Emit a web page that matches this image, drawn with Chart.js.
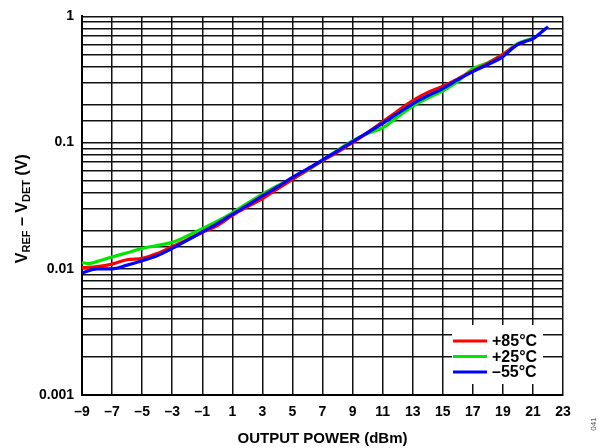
<!DOCTYPE html>
<html>
<head>
<meta charset="utf-8">
<script src="https://cdn.jsdelivr.net/npm/chart.js@4/dist/chart.umd.min.js"></script>
<style>
html,body{margin:0;padding:0;background:#fff;}
#wrap{position:relative;width:599px;height:448px;}
</style>
</head>
<body>
<div id="wrap"><canvas id="c" width="599" height="448"></canvas></div>
<script>
// ---- data ----
const seriesLabels = ['+85°C', '+25°C', '\u201355°C'];
const seriesColors = ['#ff0000', '#00e600', '#0000ff'];

const powerRed = [-9, -8, -7, -6, -5, -4, -3, -2, -1, 0, 1, 2, 3, 4, 5, 6, 7, 8, 9, 10, 11, 12, 13, 14, 15, 16, 17, 18, 19, 20, 20.5];
const vRed = [0.0102, 0.0104, 0.0109, 0.0118, 0.0121, 0.0132, 0.0150, 0.0170, 0.0194, 0.0220, 0.0265, 0.0310, 0.0360, 0.0430, 0.0510, 0.0610, 0.0720, 0.0840, 0.1000, 0.1200, 0.1460, 0.1780, 0.2150, 0.2500, 0.2800, 0.3200, 0.3700, 0.4250, 0.5000, 0.6000, 0.6300];

const powerGreen = [-9, -8.5, -8, -7, -6, -5, -4, -3, -2, -1, 0, 1, 2, 3, 4, 5, 6, 7, 8, 9, 10, 11, 12, 13, 14, 15, 16, 17, 18, 19, 20, 21];
const vGreen = [0.0112, 0.0110, 0.0114, 0.0124, 0.0134, 0.0145, 0.0153, 0.0162, 0.0182, 0.0208, 0.0238, 0.0278, 0.0330, 0.0390, 0.0455, 0.0520, 0.0600, 0.0720, 0.0870, 0.1030, 0.1180, 0.1310, 0.1600, 0.1940, 0.2250, 0.2570, 0.3050, 0.3850, 0.4300, 0.5000, 0.6100, 0.6700];

const powerBlue = [-9, -8, -7, -6, -5, -4, -3, -2, -1, 0, 1, 2, 3, 4, 5, 6, 7, 8, 9, 10, 11, 12, 13, 14, 15, 16, 17, 18, 19, 19.5, 20, 20.5, 21, 21.5, 22];
const vBlue = [0.0093, 0.0100, 0.0100, 0.0107, 0.0116, 0.0127, 0.0145, 0.0168, 0.0196, 0.0228, 0.0270, 0.0318, 0.0378, 0.0445, 0.0530, 0.0620, 0.0730, 0.0860, 0.1020, 0.1200, 0.1420, 0.1700, 0.2030, 0.2350, 0.2680, 0.3150, 0.3650, 0.4150, 0.4800, 0.5400, 0.6000, 0.6350, 0.6650, 0.7400, 0.8300];

const xTicks = [-9, -7, -5, -3, -1, 1, 3, 5, 7, 9, 11, 13, 15, 17, 19, 21, 23];
const yTickLabels = ['0.001', '0.01', '0.1', '1'];
const xTitle = 'OUTPUT POWER (dBm)';
const yTitleParts = [['V', false], ['REF', true], [' \u2013 V', false], ['DET', true], [' (V)', false]];
const figureId = '041';

// ---- chart ----
const FONT = '"Liberation Sans", Arial, sans-serif';
function pts(xs, ys) { return xs.map((x, i) => ({ x: x, y: ys[i] })); }

const overlay = {
  id: 'overlay',
  afterDraw(chart) {
    const ctx = chart.ctx;
    const a = chart.chartArea;
    ctx.save();
    // x title
    ctx.fillStyle = '#000';
    ctx.font = 'bold 15px ' + FONT;
    ctx.textAlign = 'center';
    ctx.textBaseline = 'alphabetic';
    ctx.fillText(xTitle, (a.left + a.right) / 2, 443);
    // y title with subscripts
    ctx.save();
    ctx.translate(27, (a.top + a.bottom) / 2 + 3);
    ctx.rotate(-Math.PI / 2);
    const big = 'bold 16px ' + FONT, small = 'bold 11px ' + FONT;
    let total = 0;
    yTitleParts.forEach(p => { ctx.font = p[1] ? small : big; total += ctx.measureText(p[0]).width; });
    let x = -total / 2;
    ctx.textAlign = 'left';
    yTitleParts.forEach(p => {
      ctx.font = p[1] ? small : big;
      ctx.fillText(p[0], x, p[1] ? 3 : 0);
      x += ctx.measureText(p[0]).width;
    });
    ctx.restore();
    // legend box
    const bx = 452, by = 325, bw = 91, bh = 59;
    ctx.fillStyle = '#fff';
    ctx.fillRect(bx, by, bw, bh);
    ctx.font = 'bold 16px ' + FONT;
    ctx.textBaseline = 'middle';
    ctx.textAlign = 'left';
    const rows = [341, 356.5, 372];
    seriesLabels.forEach((lab, i) => {
      ctx.strokeStyle = seriesColors[i];
      ctx.lineWidth = 3;
      ctx.beginPath();
      ctx.moveTo(453, rows[i]);
      ctx.lineTo(487, rows[i]);
      ctx.stroke();
      ctx.fillStyle = '#000';
      ctx.fillText(lab, 492, rows[i] + 1);
    });
    // figure id
    ctx.save();
    ctx.translate(594, 424);
    ctx.rotate(-Math.PI / 2);
    ctx.font = '8px ' + FONT;
    ctx.fillStyle = '#555';
    ctx.textAlign = 'center';
    ctx.fillText(figureId, 0, 0);
    ctx.restore();
    ctx.restore();
  }
};

function ds(label, xs, ys, color, order) {
  return {
    label: label, data: pts(xs, ys), borderColor: color, backgroundColor: color,
    borderWidth: 3.2, pointRadius: 0, tension: 0.35, cubicInterpolationMode: 'monotone',
    fill: false, order: order
  };
}

new Chart(document.getElementById('c'), {
  type: 'line',
  data: {
    datasets: [
      ds(seriesLabels[0], powerRed, vRed, seriesColors[0], 1),
      ds(seriesLabels[1], powerGreen, vGreen, seriesColors[1], 2),
      ds(seriesLabels[2], powerBlue, vBlue, seriesColors[2], 0)
    ]
  },
  options: {
    responsive: false,
    animation: false,
    devicePixelRatio: 1,
    layout: { padding: { left: 0, right: 36, top: 12, bottom: 0 } },
    plugins: { legend: { display: false }, tooltip: { enabled: false } },
    scales: {
      x: {
        type: 'linear', min: -9, max: 23,
        afterBuildTicks(scale) { scale.ticks = xTicks.map(v => ({ value: v })); },
        afterFit(scale) { scale.height = 53; },
        grid: { color: '#111', lineWidth: 1.5, drawTicks: false },
        border: { color: '#000', width: 2 },
        ticks: {
          padding: 9, color: '#000', font: { family: FONT, size: 14, weight: 'bold' },
          autoSkip: false, maxRotation: 0,
          callback: v => String(v).replace('-', '\u2013')
        }
      },
      y: {
        type: 'logarithmic', min: 0.001, max: 1,
        afterFit(scale) { scale.width = 82; },
        grid: { color: '#111', lineWidth: 1.5, drawTicks: false },
        border: { color: '#000', width: 2 },
        ticks: {
          padding: 8, color: '#000', font: { family: FONT, size: 14, weight: 'bold' },
          autoSkip: false,
          callback: function (v) {
            const l = Math.log10(v);
            if (Math.abs(l - Math.round(l)) < 1e-6) {
              const idx = Math.round(l) + 3;
              return yTickLabels[idx] !== undefined ? yTickLabels[idx] : '';
            }
            return '';
          }
        }
      }
    }
  },
  plugins: [overlay]
});
</script>
</body>
</html>
